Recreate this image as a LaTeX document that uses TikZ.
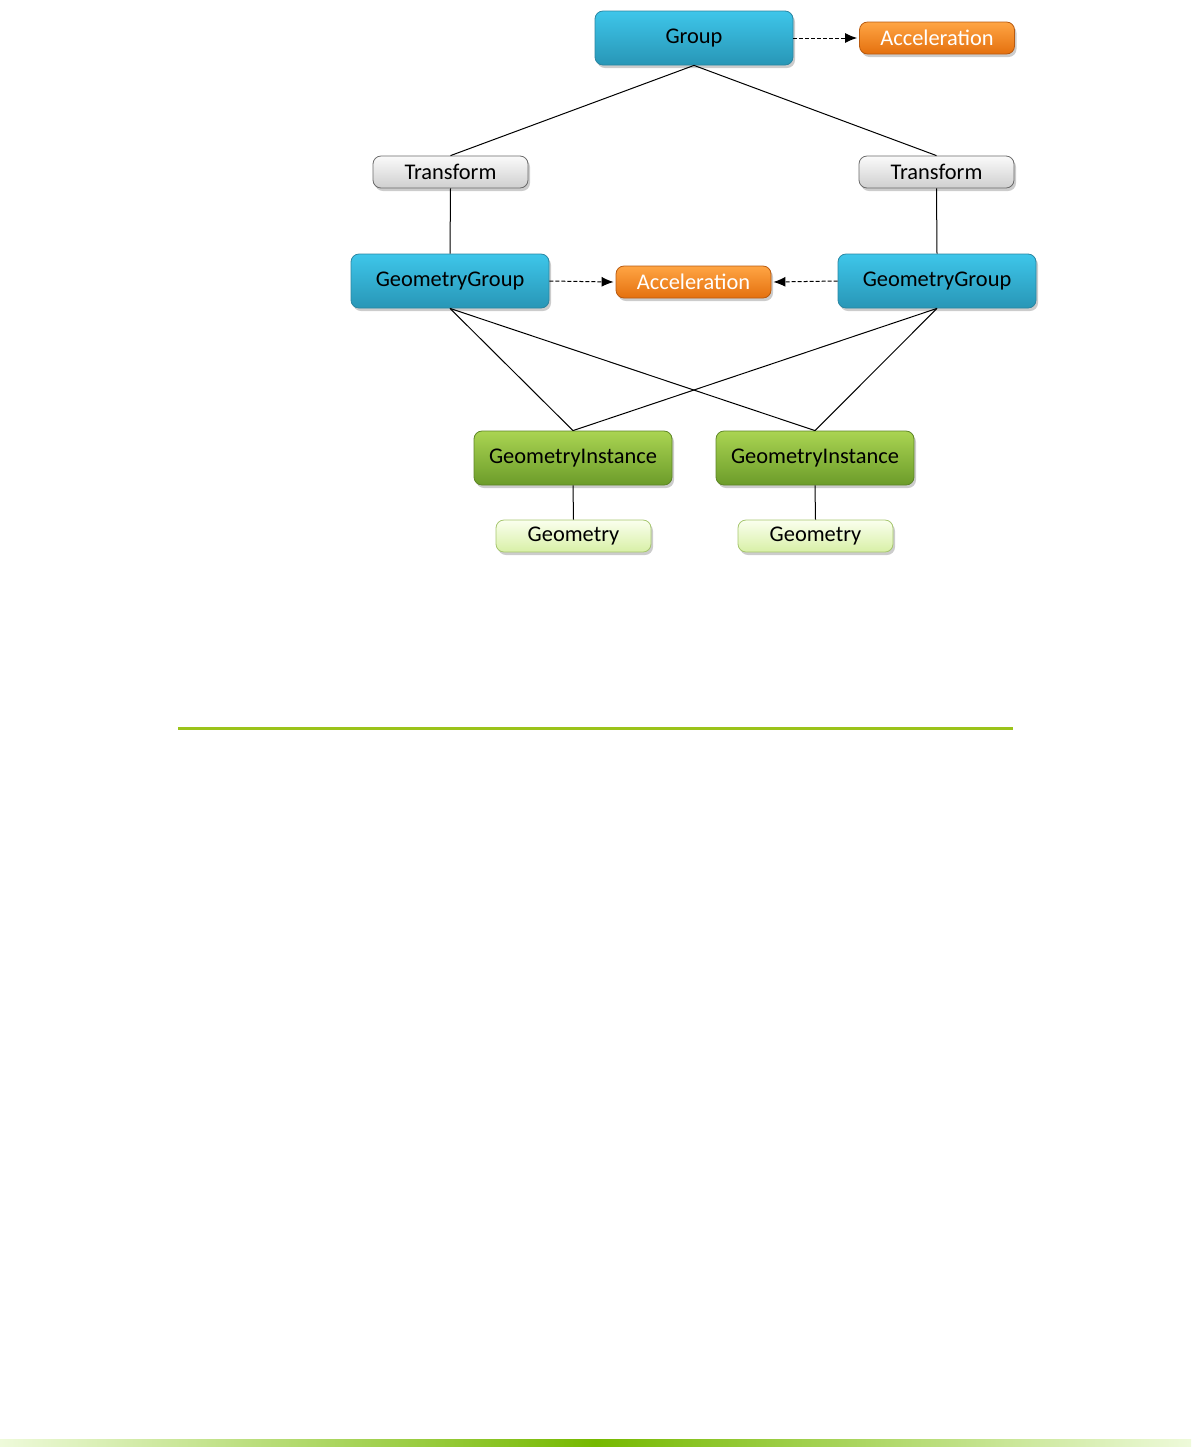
\documentclass[tikz,border=0pt]{standalone}
\usepackage{fontspec}
\setmainfont{Carlito}
\usetikzlibrary{arrows.meta, shadows}

\definecolor{grpTop}{HTML}{3EC6EA}
\definecolor{grpBot}{HTML}{2896B6}
\definecolor{grpLine}{HTML}{2A86A2}
\definecolor{accTop}{HTML}{FFA544}
\definecolor{accBot}{HTML}{E4700E}
\definecolor{accLine}{HTML}{B85A10}
\definecolor{trfTop}{HTML}{FAFAFA}
\definecolor{trfBot}{HTML}{CFCFCF}
\definecolor{trfLine}{HTML}{6A6A6A}
\definecolor{instTop}{HTML}{AAD452}
\definecolor{instBot}{HTML}{6C9C2A}
\definecolor{instLine}{HTML}{5E8626}
\definecolor{geoTop}{HTML}{FAFFEE}
\definecolor{geoBot}{HTML}{D8F0A6}
\definecolor{geoLine}{HTML}{A6C66E}
\definecolor{ruleGreen}{HTML}{9BC31A}
\definecolor{barGreen}{HTML}{76B900}
\definecolor{barPale}{HTML}{EEFADA}

\begin{document}
\begin{tikzpicture}[
    x=0.5pt, y=-0.5pt,
    box/.style={rounded corners=4pt, align=center, font=\fontsize{11.2}{13}\selectfont, inner sep=0pt,
        drop shadow={shadow xshift=1pt, shadow yshift=-1.5pt, opacity=0.4}},
    bignode/.style={box, minimum width=99pt, minimum height=27pt},
    smallnode/.style={box, minimum width=77.5pt, minimum height=16pt},
    group/.style={bignode, draw=grpLine, top color=grpTop, bottom color=grpBot},
    accel/.style={smallnode, draw=accLine, top color=accTop, bottom color=accBot, text=white},
    transform/.style={smallnode, draw=trfLine, top color=trfTop, bottom color=trfBot},
    instance/.style={bignode, draw=instLine, top color=instTop, bottom color=instBot},
    geometry/.style={smallnode, draw=geoLine, top color=geoTop, bottom color=geoBot},
    link/.style={black, line width=0.5pt},
    ref/.style={-{Latex[length=6pt, width=5pt]}, black, line width=0.5pt, dash pattern=on 2pt off 1pt}
]
\useasboundingbox (0,0) rectangle (1191,1447);

% nodes
\node[group] (grp) at (694,38) {Group};
\node[accel] (accTop) at (937,38) {Acceleration};
\node[transform] (trfL) at (450.5,172) {Transform};
\node[transform] (trfR) at (936.5,172) {Transform};
\node[group] (ggL) at (450,281) {GeometryGroup};
\node[accel] (accMid) at (693.5,282) {Acceleration};
\node[group] (ggR) at (937,281) {GeometryGroup};
\node[instance] (giL) at (573,458) {GeometryInstance};
\node[instance] (giR) at (815,458) {GeometryInstance};
\node[geometry] (geoL) at (573.5,536) {Geometry};
\node[geometry] (geoR) at (815.5,536) {Geometry};

% hierarchy
\draw[link] (grp.south) -- (trfL.north);
\draw[link] (grp.south) -- (trfR.north);
\draw[link] (trfL.south) -- (ggL.north);
\draw[link] (trfR.south) -- (ggR.north);
\foreach \gg in {ggL, ggR} {
    \foreach \gi in {giL, giR}
        \draw[link] (\gg.south) -- (\gi.north);
}
\draw[link] (giL.south) -- (geoL.north);
\draw[link] (giR.south) -- (geoR.north);

% acceleration references
\draw[ref] (grp.east) -- ([xshift=-1pt]accTop.west);
\draw[ref] (ggL.east) -- ([xshift=-1pt]accMid.west);
\draw[ref] (ggR.west) -- ([xshift=1pt]accMid.east);

% page decoration
\draw[ruleGreen, line width=1.5pt] (178,728) -- (1013,728);
\shade[left color=barPale, right color=barPale, middle color=barGreen] (0,1439) rectangle (1191,1447);
\end{tikzpicture}
\end{document}
